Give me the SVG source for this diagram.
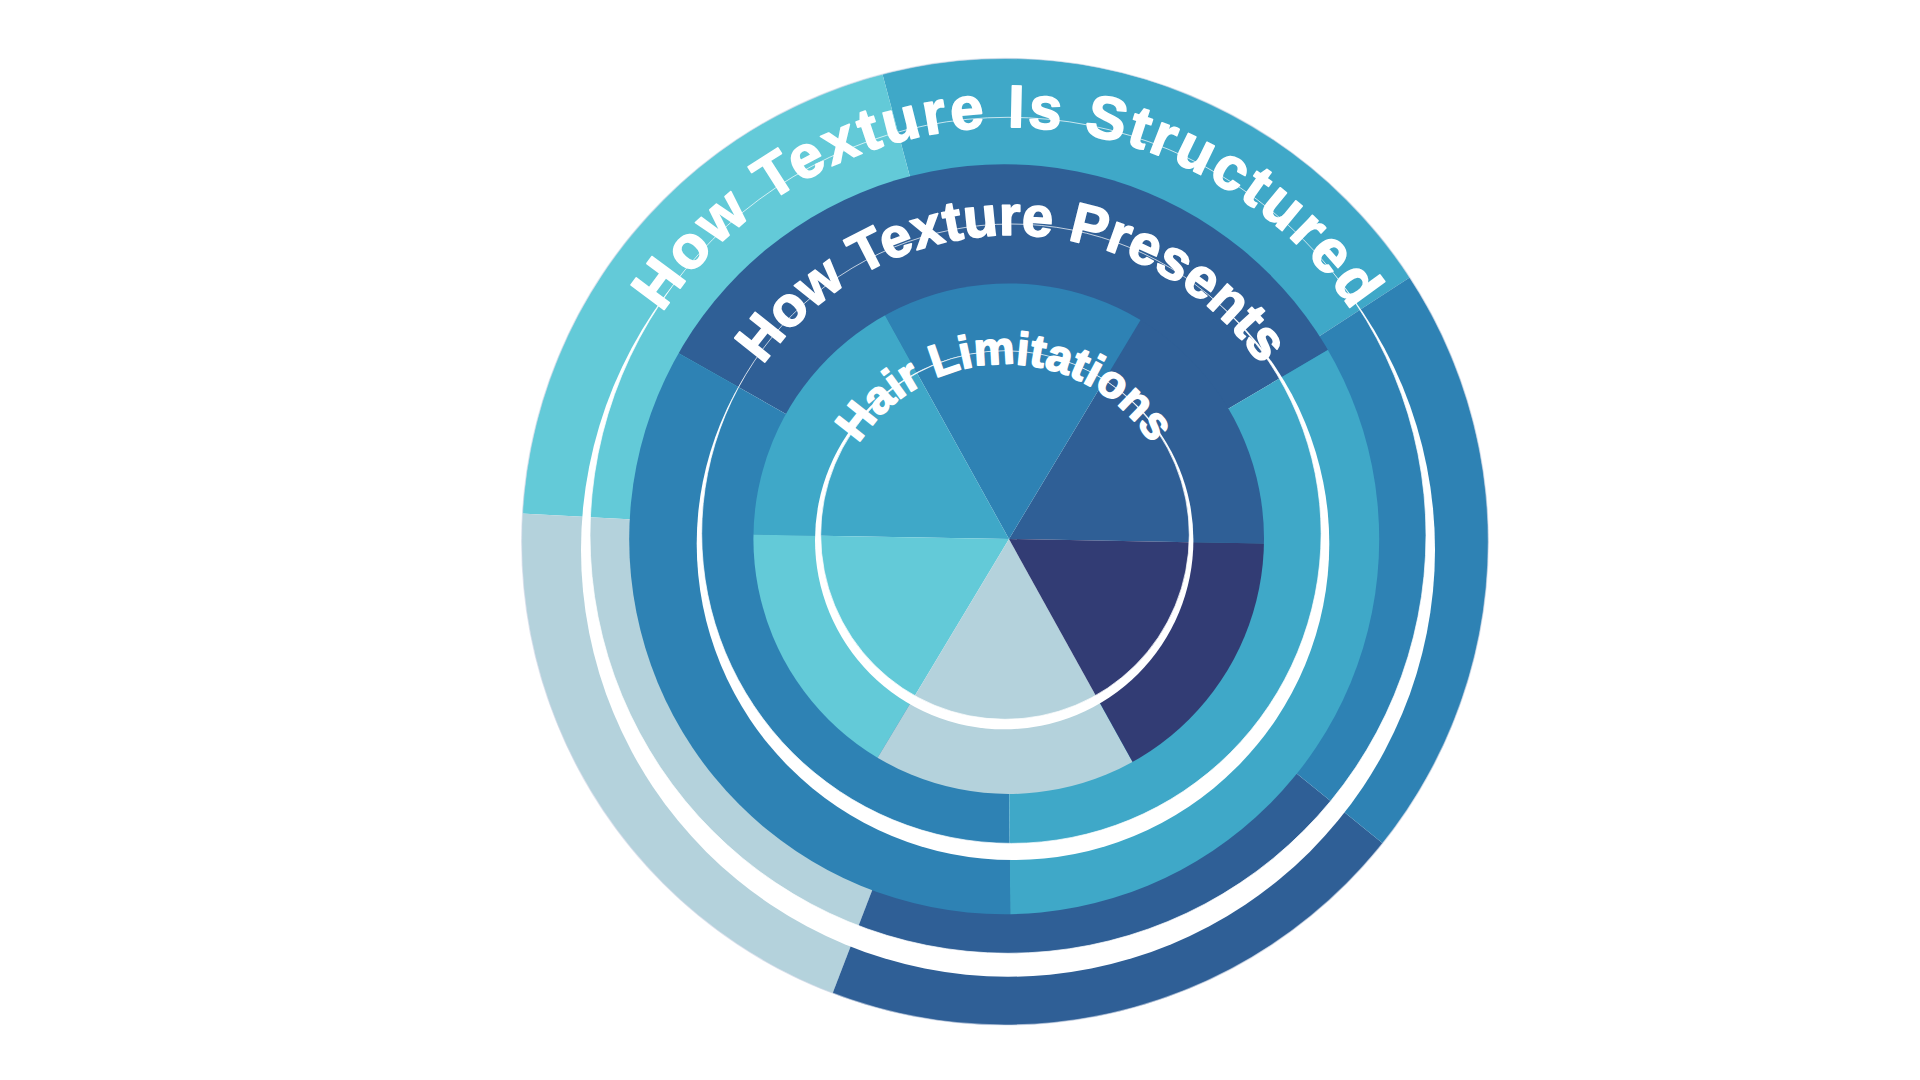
<svg xmlns="http://www.w3.org/2000/svg" width="1920" height="1080" viewBox="0 0 1920 1080">
<defs>
<style>
.lbl{font-family:"Liberation Sans",Arial,sans-serif;font-weight:bold;fill:#ffffff;stroke:#ffffff;stroke-width:1.6;stroke-linejoin:round;text-anchor:middle}
.hair{fill:none;stroke:#ffffff;stroke-width:1;opacity:0.7}
.gap{fill:#ffffff}
.c1{fill:#63CAD8}.c2{fill:#3FA8C8}.c3{fill:#2E82B4}.c4{fill:#2F5F96}.c5{fill:#323C74}.c6{fill:#B4D2DC}
</style>
<path id="w60" d="M0,0 L700,0 L606.2,-350 L350,-606.2 Z"/>
<path id="w72" d="M0,0 L700,0 L566.3,-411.4 L216.3,-665.7 Z"/>
<path id="w120" d="M0,0 L700,0 L536.2,-450 L121.6,-689.4 L-350,-606.2 Z"/>
<clipPath id="c3o"><circle cx="1005" cy="541.7" r="483.3"/></clipPath>
<clipPath id="c3i"><circle cx="1008" cy="535.3" r="418"/></clipPath>
<clipPath id="c2o"><circle cx="1004.2" cy="539.2" r="375"/></clipPath>
<clipPath id="c2i"><circle cx="1011.4" cy="533.7" r="309.7"/></clipPath>
<clipPath id="c1o"><circle cx="1008.7" cy="538.7" r="255.3"/></clipPath>
<clipPath id="c1i"><circle cx="1005" cy="535" r="184.3"/></clipPath>
<path id="t1" d="M594,541 A414,414 0 0 1 1422,541"/>
<path id="t2" d="M709,538 A303,303 0 0 1 1315,538"/>
<path id="t3" d="M831,538 A174,174 0 0 1 1179,538"/>
</defs>
<rect width="1920" height="1080" fill="#ffffff"/>

<g id="node-how-texture-is-structured">
  <g clip-path="url(#c3o)">
    <g transform="translate(1007,539)">
      <use href="#w72" transform="rotate(-33)" class="c2"/>
      <use href="#w72" transform="rotate(-105)" class="c1"/>
      <use href="#w72" transform="rotate(-177)" class="c6"/>
      <use href="#w72" transform="rotate(-249)" class="c4"/>
      <use href="#w72" transform="rotate(-321)" class="c3"/>
    </g>
  </g>
  <circle cx="1005" cy="541.7" r="483.3" fill="none" stroke="#cdd6e6" stroke-width="1.2" opacity="0.6"/>
  <circle class="gap" cx="1008" cy="549.7" r="427"/>
  <g clip-path="url(#c3i)">
    <g transform="translate(1007,539)">
      <use href="#w72" transform="rotate(-33)" class="c2"/>
      <use href="#w72" transform="rotate(-105)" class="c1"/>
      <use href="#w72" transform="rotate(-177)" class="c6"/>
      <use href="#w72" transform="rotate(-249)" class="c4"/>
      <use href="#w72" transform="rotate(-321)" class="c3"/>
    </g>
  </g>
  <circle class="hair" cx="1008" cy="535.3" r="418"/>
  <text class="lbl" font-size="60" letter-spacing="3"><textPath href="#t1" startOffset="50%">How Texture Is Structured</textPath></text>
</g>

<g id="node-how-texture-presents">
  <g clip-path="url(#c2o)">
    <g transform="translate(1007,539)">
      <use href="#w120" transform="rotate(-30.5)" class="c4"/>
      <use href="#w120" transform="rotate(-150.5)" class="c3"/>
      <use href="#w120" transform="rotate(-270.5)" class="c2"/>
    </g>
  </g>
  <circle class="gap" cx="1013" cy="543.7" r="316.3"/>
  <g clip-path="url(#c2i)">
    <g transform="translate(1007,539)">
      <use href="#w120" transform="rotate(-30.5)" class="c4"/>
      <use href="#w120" transform="rotate(-150.5)" class="c3"/>
      <use href="#w120" transform="rotate(-270.5)" class="c2"/>
    </g>
  </g>
  <circle class="hair" cx="1011.4" cy="533.7" r="309.7"/>
  <text class="lbl" font-size="56"><textPath href="#t2" startOffset="50%">How Texture Presents</textPath></text>
</g>

<g id="node-hair-limitations">
  <g clip-path="url(#c1o)">
    <g transform="translate(1009,539)">
      <use href="#w60" transform="rotate(1)" class="c4"/>
      <use href="#w60" transform="rotate(-59)" class="c3"/>
      <use href="#w60" transform="rotate(-119)" class="c2"/>
      <use href="#w60" transform="rotate(-179)" class="c1"/>
      <use href="#w60" transform="rotate(-239)" class="c6"/>
      <use href="#w60" transform="rotate(-299)" class="c5"/>
    </g>
  </g>
  <circle class="gap" cx="1004.2" cy="540.1" r="189.2"/>
  <g clip-path="url(#c1i)">
    <g transform="translate(1009,539)">
      <use href="#w60" transform="rotate(1)" class="c4"/>
      <use href="#w60" transform="rotate(-59)" class="c3"/>
      <use href="#w60" transform="rotate(-119)" class="c2"/>
      <use href="#w60" transform="rotate(-179)" class="c1"/>
      <use href="#w60" transform="rotate(-239)" class="c6"/>
      <use href="#w60" transform="rotate(-299)" class="c5"/>
    </g>
  </g>
  <circle class="hair" cx="1005" cy="535" r="184.3"/>
  <text class="lbl" font-size="46"><textPath href="#t3" startOffset="50%">Hair Limitations</textPath></text>
</g>

<g id="connectors"/>
</svg>
